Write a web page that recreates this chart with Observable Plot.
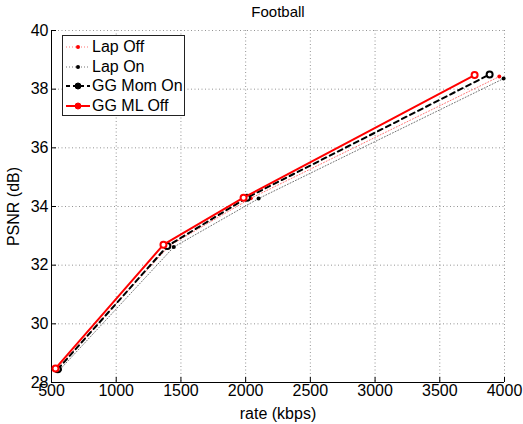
<!DOCTYPE html>
<html>
<head>
<meta charset="utf-8">
<script src="https://cdn.jsdelivr.net/npm/d3@7"></script>
<script src="https://cdn.jsdelivr.net/npm/@observablehq/plot@0.6"></script>
<style>
  body { margin: 0; background: #fff; }
  #wrap { position: relative; width: 523px; height: 424px; font-family: "Liberation Sans", Arial, sans-serif; }
  #legend { position: absolute; left: 62px; top: 35px; width: 123px; height: 81px; border: 1.5px solid #222; background: #fff; box-sizing: border-box; }
  .item { position: absolute; left: 2px; height: 20px; display: flex; align-items: center; font-size: 16px; color: #000; white-space: nowrap; }
  .item svg { margin-right: 1px; flex: none; }
</style>
</head>
<body>
<div id="wrap"></div>
<script>
const seriesNames = ["Lap Off", "Lap On", "GG Mom On", "GG ML Off"];
const lapOffRate = [540, 1410, 2040, 3960];
const lapOffPsnr = [28.47, 32.66, 34.28, 38.43];
const lapOnRate = [565, 1445, 2100, 3993];
const lapOnPsnr = [28.44, 32.62, 34.27, 38.36];
const ggMomRate = [548, 1395, 2010, 3885];
const ggMomPsnr = [28.45, 32.65, 34.30, 38.50];
const ggMlRate = [531, 1365, 1984, 3769];
const ggMlPsnr = [28.48, 32.70, 34.30, 38.48];
const xTicks = [500, 1000, 1500, 2000, 2500, 3000, 3500, 4000];
const yTicks = [28, 30, 32, 34, 36, 38, 40];

const styles = {
  "Lap Off":   {stroke: "#ff0000", width: 1, dash: "1,2", marker: "dot", opacity: 0.55},
  "Lap On":    {stroke: "#000000", width: 1, dash: "1,2", marker: "dot", opacity: 0.55},
  "GG Mom On": {stroke: "#000000", width: 2, dash: "5,4", marker: "circle", opacity: 1},
  "GG ML Off": {stroke: "#ff0000", width: 2, dash: null, marker: "circle", opacity: 1}
};
const raw = {
  "Lap Off": [lapOffRate, lapOffPsnr],
  "Lap On": [lapOnRate, lapOnPsnr],
  "GG Mom On": [ggMomRate, ggMomPsnr],
  "GG ML Off": [ggMlRate, ggMlPsnr]
};
const table = seriesNames.map(name => ({name, pts: raw[name][0].map((r, i) => ({rate: r, psnr: raw[name][1][i]}))}));

const marks = [
  Plot.gridX(xTicks, {stroke: "#888", strokeOpacity: 0.9, strokeDasharray: "1,2.5"}),
  Plot.gridY(yTicks, {stroke: "#888", strokeOpacity: 0.9, strokeDasharray: "1,2.5"}),
  Plot.axisX(xTicks, {tickSize: -5, tickPadding: 7, fontSize: 16, tickFormat: d => String(d), label: "rate (kbps)", labelAnchor: "center", labelArrow: "none", labelOffset: 36}),
  Plot.axisY(yTicks, {tickSize: -5, tickPadding: 8, fontSize: 16, tickFormat: d => String(d), label: "PSNR (dB)", labelAnchor: "center", labelArrow: "none", labelOffset: 44}),
  Plot.ruleX([500], {stroke: "#000", strokeWidth: 1}),
  Plot.ruleY([28], {stroke: "#000", strokeWidth: 1}),
  Plot.text(["Football"], {frameAnchor: "top", dy: -18, lineAnchor: "middle", fontSize: 15})
];
for (const s of table) {
  const st = styles[s.name];
  marks.push(Plot.line(s.pts, {x: "rate", y: "psnr", stroke: st.stroke, strokeWidth: st.width, strokeDasharray: st.dash, strokeOpacity: st.opacity}));
  if (st.marker === "dot") {
    marks.push(Plot.dot(s.pts, {x: "rate", y: "psnr", r: 2, fill: st.stroke, stroke: "none"}));
  } else {
    marks.push(Plot.dot(s.pts, {x: "rate", y: "psnr", r: 3, fill: "white", stroke: st.stroke, strokeWidth: 2}));
  }
}

const chart = Plot.plot({
  width: 523,
  height: 424,
  marginLeft: 51,
  marginRight: 19,
  marginTop: 30,
  marginBottom: 42,
  style: {fontFamily: "'Liberation Sans', Arial, sans-serif", fontSize: "15px", color: "#000", background: "#fff"},
  x: {domain: [500, 4000]},
  y: {domain: [28, 40]},
  marks
});
const wrap = document.getElementById("wrap");
wrap.appendChild(chart);

const legend = document.createElement("div");
legend.id = "legend";
seriesNames.forEach((name, i) => {
  const st = styles[name];
  const item = document.createElement("div");
  item.className = "item";
  item.style.top = (1 + i * 19.5) + "px";
  const dash = st.dash ? `stroke-dasharray="${st.marker === "dot" ? "1,2" : "4,3"}"` : "";
  const mk = st.marker === "dot"
    ? `<circle cx="13" cy="10" r="2" fill="${st.stroke}"/>`
    : `<circle cx="13" cy="10" r="3" fill="${st.stroke}" stroke="${st.stroke}" stroke-width="1"/>`;
  item.innerHTML = `<svg width="26" height="20"><line x1="1" x2="25" y1="10" y2="10" stroke="${st.stroke}" stroke-width="${st.width}" stroke-opacity="${st.opacity}" ${dash}/>${mk}</svg><span>${name}</span>`;
  legend.appendChild(item);
});
wrap.appendChild(legend);
</script>
</body>
</html>
